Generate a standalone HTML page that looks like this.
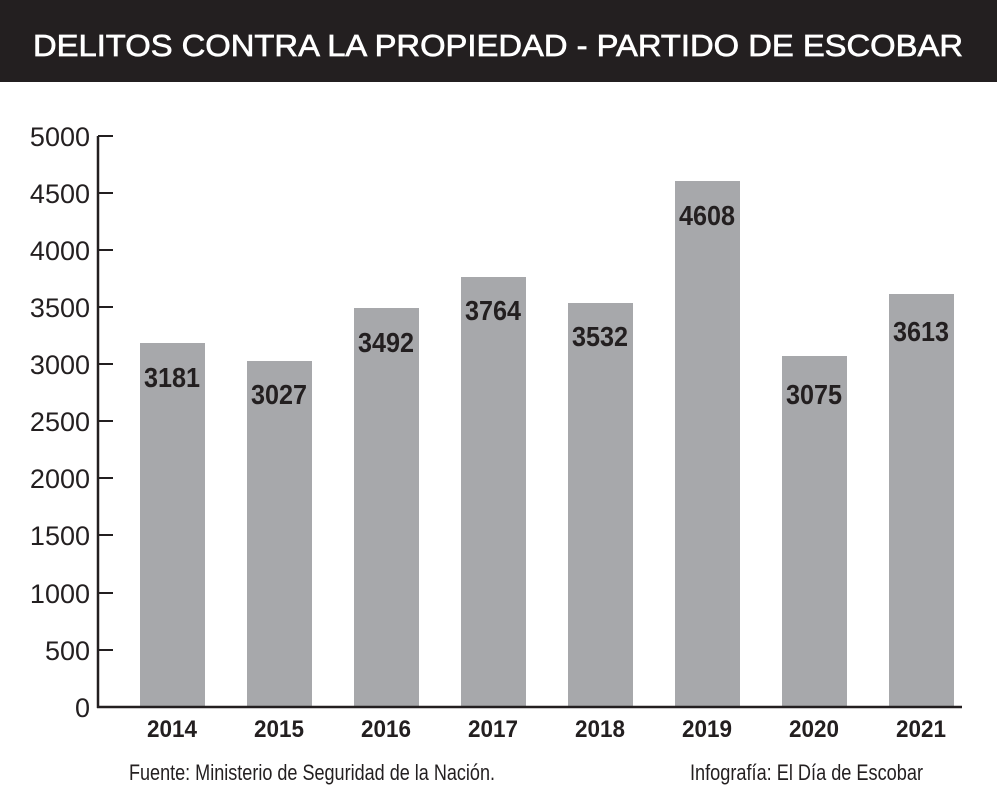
<!DOCTYPE html>
<html><head><meta charset="utf-8"><style>
html,body{margin:0;padding:0;background:#fff;}
svg{display:block;}
</style></head><body>
<svg width="997" height="801" xmlns="http://www.w3.org/2000/svg">
<rect x="0" y="0" width="997" height="82" fill="#231f20"/>
<text x="498" y="56" fill="#fff" stroke="#fff" stroke-width="0.7" font-family="Liberation Sans, sans-serif" font-size="31" text-anchor="middle" textLength="930" lengthAdjust="spacingAndGlyphs">DELITOS CONTRA LA PROPIEDAD - PARTIDO DE ESCOBAR</text>
<g fill="#a7a8ab">
<rect x="140" y="343" width="65" height="364"/>
<rect x="247" y="361" width="65" height="346"/>
<rect x="354" y="308" width="65" height="399"/>
<rect x="461" y="277" width="65" height="430"/>
<rect x="568" y="303" width="65" height="404"/>
<rect x="675" y="181" width="65" height="526"/>
<rect x="782" y="356" width="65" height="351"/>
<rect x="889" y="294" width="65" height="413"/>
</g>
<g stroke="#231f20" stroke-width="2.5" fill="none">
<line x1="98" y1="136" x2="98" y2="708"/>
<line x1="97" y1="707" x2="962" y2="707"/>
</g>
<g stroke="#231f20" stroke-width="2">
<line x1="98" y1="136" x2="113" y2="136"/>
<line x1="98" y1="193" x2="113" y2="193"/>
<line x1="98" y1="250" x2="113" y2="250"/>
<line x1="98" y1="307" x2="113" y2="307"/>
<line x1="98" y1="364" x2="113" y2="364"/>
<line x1="98" y1="421" x2="113" y2="421"/>
<line x1="98" y1="478" x2="113" y2="478"/>
<line x1="98" y1="535" x2="113" y2="535"/>
<line x1="98" y1="593" x2="113" y2="593"/>
<line x1="98" y1="650" x2="113" y2="650"/>
</g>
<g font-family="Liberation Sans, sans-serif" font-size="27" fill="#231f20" text-anchor="end">
<text x="90" y="146">5000</text>
<text x="90" y="203">4500</text>
<text x="90" y="260">4000</text>
<text x="90" y="317">3500</text>
<text x="90" y="374">3000</text>
<text x="90" y="431">2500</text>
<text x="90" y="488">2000</text>
<text x="90" y="545">1500</text>
<text x="90" y="603">1000</text>
<text x="90" y="660">500</text>
<text x="90" y="717">0</text>
</g>
<g font-family="Liberation Sans, sans-serif" font-size="28" font-weight="bold" fill="#231f20" text-anchor="middle">
<text x="172" y="387" textLength="56" lengthAdjust="spacingAndGlyphs">3181</text>
<text x="279" y="404" textLength="56" lengthAdjust="spacingAndGlyphs">3027</text>
<text x="386" y="352" textLength="56" lengthAdjust="spacingAndGlyphs">3492</text>
<text x="493" y="320" textLength="56" lengthAdjust="spacingAndGlyphs">3764</text>
<text x="600" y="346" textLength="56" lengthAdjust="spacingAndGlyphs">3532</text>
<text x="707" y="225" textLength="56" lengthAdjust="spacingAndGlyphs">4608</text>
<text x="814" y="404" textLength="56" lengthAdjust="spacingAndGlyphs">3075</text>
<text x="921" y="341" textLength="56" lengthAdjust="spacingAndGlyphs">3613</text>
</g>
<g font-family="Liberation Sans, sans-serif" font-size="24" font-weight="bold" fill="#231f20" text-anchor="middle">
<text x="172" y="737" textLength="50" lengthAdjust="spacingAndGlyphs">2014</text>
<text x="279" y="737" textLength="50" lengthAdjust="spacingAndGlyphs">2015</text>
<text x="386" y="737" textLength="50" lengthAdjust="spacingAndGlyphs">2016</text>
<text x="493" y="737" textLength="50" lengthAdjust="spacingAndGlyphs">2017</text>
<text x="600" y="737" textLength="50" lengthAdjust="spacingAndGlyphs">2018</text>
<text x="707" y="737" textLength="50" lengthAdjust="spacingAndGlyphs">2019</text>
<text x="814" y="737" textLength="50" lengthAdjust="spacingAndGlyphs">2020</text>
<text x="921" y="737" textLength="50" lengthAdjust="spacingAndGlyphs">2021</text>
</g>
<g font-family="Liberation Sans, sans-serif" font-size="22" fill="#231f20">
<text x="129" y="780" textLength="366" lengthAdjust="spacingAndGlyphs">Fuente: Ministerio de Seguridad de la Nación.</text>
<text x="690" y="780" textLength="233" lengthAdjust="spacingAndGlyphs">Infografía: El Día de Escobar</text>
</g>
</svg>
</body></html>
